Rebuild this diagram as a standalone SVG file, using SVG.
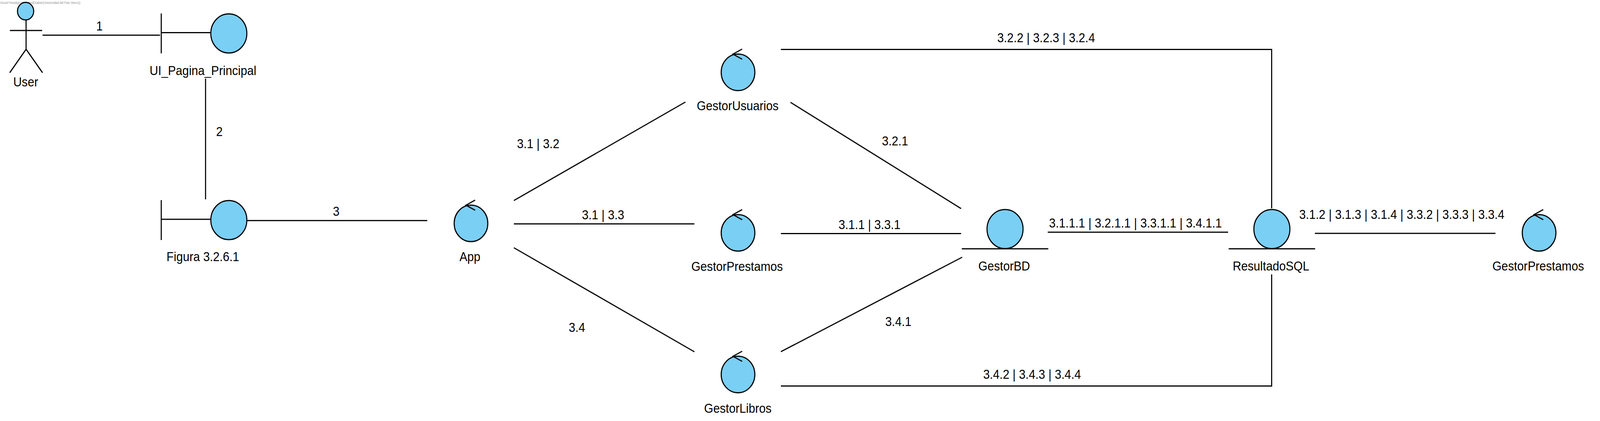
<svg xmlns="http://www.w3.org/2000/svg" width="4440" height="1077" viewBox="0 0 4440 1077" preserveAspectRatio="none">
<style>
svg{max-width:100vw}
text{font-family:"Liberation Sans",Arial,sans-serif;font-size:32.7px;fill:#000;text-anchor:middle}
.wm{font-size:8.4px;fill:#999;text-anchor:start}
.s{fill:none;stroke:#000;stroke-width:3}
.f{fill:#7ACFF5;stroke:#000;stroke-width:3}
.c{fill:none;stroke:#000;stroke-width:3}
</style>
<defs>
<g id="ctrl"><circle class="f" cx="0" cy="0" r="46.7"/><polyline class="s" points="11.5,-59.5 -14,-46.5 11.5,-33.5"/></g>
<g id="entity"><circle class="f" cx="0" cy="0" r="50"/><line class="s" x1="-120" y1="50.5" x2="120" y2="50.5"/></g>
<g id="boundary"><line class="s" x1="-187.5" y1="-51" x2="-187.5" y2="51"/><line class="s" x1="-187.5" y1="-2" x2="-50" y2="-2"/><circle class="f" cx="0" cy="0" r="50"/></g>
</defs>
<rect width="4440" height="1077" fill="#fff"/>
<text class="wm" x="0" y="10" textLength="223" lengthAdjust="spacing">Visual Paradigm Standard(Xabier(Universidad del Pais Vasco))</text>
<g id="connectors">
<line class="c" x1="118" y1="90" x2="444" y2="90"/>
<line class="c" x1="570.4" y1="201" x2="570.4" y2="510"/>
<line class="c" x1="685" y1="564.3" x2="1185.7" y2="564.3"/>
<line class="c" x1="1426" y1="513" x2="1902" y2="261"/>
<line class="c" x1="1426" y1="572.7" x2="1927" y2="572.7"/>
<line class="c" x1="1426" y1="633.7" x2="1927" y2="900"/>
<polyline class="c" points="2167,126.4 3528.8,126.4 3528.8,533"/>
<line class="c" x1="2193.6" y1="261.7" x2="2667" y2="533.6"/>
<line class="c" x1="2167" y1="597.5" x2="2667" y2="597.5"/>
<line class="c" x1="2167" y1="899.7" x2="2670" y2="658"/>
<polyline class="c" points="2167,987.4 3528.8,987.4 3528.8,702"/>
<line class="c" x1="2907.5" y1="594" x2="3408" y2="594"/>
<line class="c" x1="3648.8" y1="597" x2="4150" y2="597"/>
<text x="276" y="78">1</text>
<text x="608.7" y="348">2</text>
<text x="933" y="551.7">3</text>
<text x="1493.5" y="379">3.1 | 3.2</text>
<text x="1673.5" y="561">3.1 | 3.3</text>
<text x="1601" y="849">3.4</text>
<text x="2903" y="108.5">3.2.2 | 3.2.3 | 3.2.4</text>
<text x="2483.6" y="372">3.2.1</text>
<text x="2413" y="586">3.1.1 | 3.3.1</text>
<text x="2493" y="834">3.4.1</text>
<text x="2864" y="969">3.4.2 | 3.4.3 | 3.4.4</text>
<text x="3151" y="582.4">3.1.1.1 | 3.2.1.1 | 3.3.1.1 | 3.4.1.1</text>
<text x="3890" y="560.4">3.1.2 | 3.1.3 | 3.1.4 | 3.3.2 | 3.3.3 | 3.3.4</text>
</g>
<g id="user">
<circle class="f" cx="71" cy="28.6" r="22.5"/>
<path class="s" d="M72.4 51V126M27.5 78H117M27 186L72.4 126L118 186"/>
<text x="71.4" y="221">User</text>
</g>
<g id="ui-pagina-principal"><use href="#boundary" x="635" y="85.5"/><text x="563.3" y="192">UI_Pagina_Principal</text></g>
<g id="figura"><use href="#boundary" x="635" y="563"/><text x="563" y="668">Figura 3.2.6.1</text></g>
<g id="app"><use href="#ctrl" x="1307" y="571.4"/><text x="1304" y="668">App</text></g>
<g id="gestor-usuarios"><use href="#ctrl" x="2048" y="185"/><text x="2047" y="282">GestorUsuarios</text></g>
<g id="gestor-prestamos"><use href="#ctrl" x="2048" y="595.6"/><text x="2045.4" y="693">GestorPrestamos</text></g>
<g id="gestor-libros"><use href="#ctrl" x="2048" y="958"/><text x="2047.5" y="1056">GestorLibros</text></g>
<g id="gestor-bd"><use href="#entity" x="2789" y="586"/><text x="2786.6" y="692">GestorBD</text></g>
<g id="resultado-sql"><use href="#entity" x="3529.5" y="586"/><text x="3527" y="692">ResultadoSQL</text></g>
<g id="gestor-prestamos-2"><use href="#ctrl" x="4271" y="595.6"/><text x="4268.4" y="692">GestorPrestamos</text></g>
</svg>
